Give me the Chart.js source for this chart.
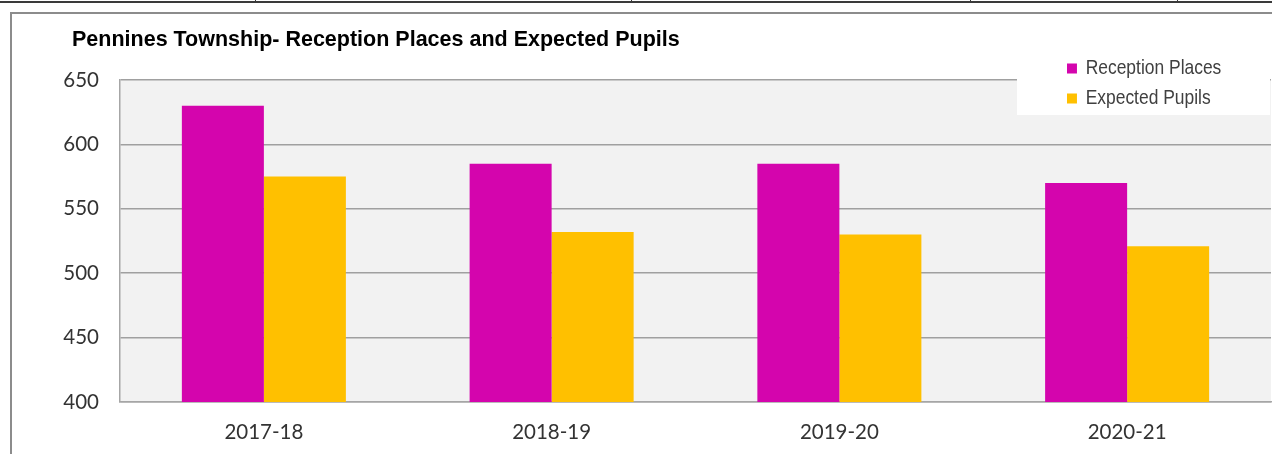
<!DOCTYPE html>
<html>
<head>
<meta charset="utf-8">
<script src="https://cdn.jsdelivr.net/npm/chart.js@4"></script>
<style>
  html, body { margin: 0; padding: 0; background: #ffffff; }
  body { width: 1272px; height: 454px; position: relative; overflow: hidden; }
  #wrap { position: absolute; left: 0; top: 0; width: 1272px; height: 454px; }
  .cellline { position: absolute; background: #3a3a3a; }
  #frame { position: absolute; left: 10px; top: 12px; width: 1300px; height: 500px;
           border-left: 2px solid #8c8c8c; border-top: 2px solid #8c8c8c; pointer-events: none; }
</style>
</head>
<body>
<div class="cellline" style="left:0;top:1px;width:1272px;height:2px;"></div>
<div class="cellline" style="left:255px;top:0;width:1px;height:3px;"></div>
<div class="cellline" style="left:631px;top:0;width:1px;height:3px;"></div>
<div class="cellline" style="left:970px;top:0;width:1px;height:3px;"></div>
<div class="cellline" style="left:1177px;top:0;width:1px;height:3px;"></div>
<div id="wrap"><canvas id="c" width="1272" height="454"></canvas></div>
<div id="frame"></div>
<script>
const titleText = 'Pennines Township- Reception Places and Expected Pupils';
const categories = ['2017-18', '2018-19', '2019-20', '2020-21'];
const receptionPlaces = [630, 585, 585, 570];
const expectedPupils = [575, 532, 530, 521];
const seriesNames = ['Reception Places', 'Expected Pupils'];
const yMin = 400;
const yMax = 650;
const yStep = 50;

const plotBackground = {
  id: 'plotBackground',
  beforeDraw(chart) {
    const { ctx, chartArea: a } = chart;
    ctx.save();
    ctx.fillStyle = '#f2f2f2';
    ctx.fillRect(a.left, a.top, a.right - a.left, a.bottom - a.top);
    ctx.restore();
  }
};

const TITLE_X = 72;
const LEGEND_X = 1067;
const LEGEND_SQUEEZE = 0.83;
const legendPlacer = {
  id: 'legendPlacer',
  afterLayout(chart) {
    if (chart.titleBlock) {
      const tb = chart.titleBlock;
      const w = tb.right - tb.left;
      tb.left = TITLE_X;
      tb.right = TITLE_X + w;
    }
    const lg = chart.legend;
    if (!lg) return;
    const pad = lg.options.labels.padding;
    lg.left = LEGEND_X - pad;
    lg.top = 49;
    lg.right = 1400;
    lg.bottom = 200;
    lg.width = lg.right - lg.left;
    lg.height = lg.bottom - lg.top;
    if (lg.adjustHitBoxes) lg.adjustHitBoxes();
  },
  afterDatasetsDraw(chart) {
    const lg = chart.legend;
    if (!lg) return;
    const ctx = chart.ctx;
    ctx.save();
    ctx.fillStyle = '#ffffff';
    ctx.fillRect(1017, 40, 1270 - 1017, 115 - 40);
    ctx.translate(LEGEND_X, 0);
    ctx.scale(LEGEND_SQUEEZE, 1);
    ctx.translate(-LEGEND_X, 0);
    lg.draw(chart.chartArea);
    ctx.restore();
  }
};

new Chart(document.getElementById('c'), {
  type: 'bar',
  data: {
    labels: categories,
    datasets: [
      { label: seriesNames[0], data: receptionPlaces, backgroundColor: '#D405AD', borderWidth: 0 },
      { label: seriesNames[1], data: expectedPupils, backgroundColor: '#FFC000', borderWidth: 0 }
    ]
  },
  options: {
    responsive: false,
    animation: false,
    devicePixelRatio: 1,
    layout: { padding: { left: 0, right: 1, top: 0, bottom: 0 } },
    datasets: { bar: { categoryPercentage: 0.57, barPercentage: 1.0 } },
    plugins: {
      tooltip: { enabled: false },
      title: {
        display: true,
        text: titleText,
        align: 'start',
        color: '#000000',
        font: { family: "'Liberation Sans', Arial, sans-serif", size: 21.5, weight: 'bold', lineHeight: 1.2 },
        padding: { top: 27, bottom: 27.2 }
      },
      legend: {
        display: true,
        position: 'chartArea',
        align: 'start',
        labels: {
          boxWidth: 12,
          boxHeight: 10,
          padding: 9,
          color: '#404040',
          font: { family: "'Liberation Sans', Arial, sans-serif", size: 21 }
        }
      }
    },
    scales: {
      x: {
        grid: { display: false, drawTicks: false },
        border: { display: true, color: '#a6a6a6', width: 1.5 },
        ticks: { color: '#333333', padding: 18, font: { family: 'Lato, sans-serif', size: 20.5 } },
        afterFit(scale) { scale.height = 52; }
      },
      y: {
        min: yMin,
        max: yMax,
        grid: { color: '#a0a0a0', lineWidth: 1.5, drawTicks: false },
        border: { display: true, color: '#a6a6a6', width: 1.5 },
        ticks: { stepSize: yStep, color: '#333333', padding: 21, font: { family: 'Lato, sans-serif', size: 20.5 } },
        afterFit(scale) { scale.width = 120; }
      }
    }
  },
  plugins: [plotBackground, legendPlacer]
});
</script>
</body>
</html>
